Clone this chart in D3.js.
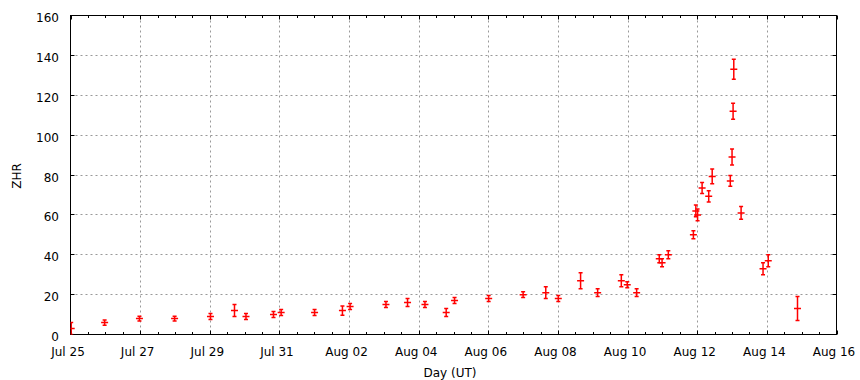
<!DOCTYPE html>
<html>
<head>
<meta charset="utf-8">
<script src="https://cdn.jsdelivr.net/npm/d3@7/dist/d3.min.js"></script>
<style>
  body { margin: 0; background: #fff; }
  svg { display: block; }
  text { font-family: "DejaVu Sans", sans-serif; font-size: 12px; fill: #000; }
</style>
</head>
<body>
<svg id="chart" width="860" height="380"></svg>
<script>
// Days after 2015-07-25 00:00 UT
const dayOffset = [0.02, 0.98, 1.98, 2.99, 4.02, 4.71, 5.04, 5.83, 6.05, 7.01,
  7.81, 8.03, 9.06, 9.68, 10.18, 10.79, 11.03, 12.01, 13.00, 13.65,
  14.01, 14.65, 15.14, 15.82, 15.99, 16.26, 16.91, 16.99, 17.17, 17.89,
  17.96, 18.01, 18.14, 18.33, 18.43, 18.95, 19.00, 19.03, 19.05, 19.26,
  19.89, 20.04, 20.88];
const zhr = [3, 6, 8, 8, 9, 12, 9, 10, 11, 11,
  12, 14, 15, 16, 15, 11, 17, 18, 20, 21,
  18, 27, 21, 27, 25, 21, 38, 36, 40, 50,
  62, 60, 73.5, 69.3, 79.3, 77, 89, 112, 133, 61,
  33, 37, 13];
const zhrErr = [3, 1.3, 1.2, 1.2, 1.5, 3, 1.5, 1.5, 1.5, 1.5,
  2.3, 1.5, 1.5, 2, 1.5, 2, 1.5, 1.5, 1.5, 3,
  1.5, 4, 2, 3, 1.5, 2, 2, 2, 2, 2,
  3, 3, 2.8, 2.8, 3.7, 2.7, 4, 4, 5, 3.2,
  3, 3, 6];
const yTicks = [0, 20, 40, 60, 80, 100, 120, 140, 160];
const xTickDays = [0, 2, 4, 6, 8, 10, 12, 14, 16, 18, 20, 22];
const xMinorStep = 0.5;
const xLabel = "Day (UT)";
const yLabel = "ZHR";

const t0 = Date.UTC(2015, 6, 25);
const DAY = 86400000;
const data = dayOffset.map((d, i) => ({ t: new Date(t0 + d * DAY), v: zhr[i], e: zhrErr[i] }));

const svg = d3.select("#chart");
const L = 70.5, R = 836.5, T = 15.5, B = 334.5;

const x = d3.scaleUtc().domain([new Date(t0), new Date(t0 + 22 * DAY)]).range([L, R]);
const y = d3.scaleLinear().domain([0, 160]).range([B, T]);

const majorX = xTickDays.map(d => new Date(t0 + d * DAY));
const minorX = d3.range(0, 22 + 1e-9, xMinorStep).map(d => new Date(t0 + d * DAY));
const fmt = d3.utcFormat("%b %d");

// gridlines
const grid = svg.append("g").attr("stroke", "#999").attr("stroke-width", 1).attr("stroke-dasharray", "2,3");
grid.selectAll("line.gx").data(majorX.slice(1, -1)).join("line")
  .attr("class", "gx")
  .attr("x1", d => Math.round(x(d)) + 0.5).attr("x2", d => Math.round(x(d)) + 0.5)
  .attr("y1", T).attr("y2", B);
grid.selectAll("line.gy").data(yTicks.slice(1, -1)).join("line")
  .attr("class", "gy")
  .attr("y1", d => Math.round(y(d) - 0.5) + 0.5).attr("y2", d => Math.round(y(d) - 0.5) + 0.5)
  .attr("x1", L).attr("x2", R);

// ticks
const ticks = svg.append("g").attr("stroke", "#000").attr("stroke-width", 1);
minorX.forEach(d => {
  const isMajor = majorX.some(m => +m === +d);
  const len = isMajor ? 4 : 2.5;
  const xx = Math.round(x(d)) + 0.5;
  ticks.append("line").attr("x1", xx).attr("x2", xx).attr("y1", B).attr("y2", B - len);
  ticks.append("line").attr("x1", xx).attr("x2", xx).attr("y1", T).attr("y2", T + len);
});
yTicks.forEach(d => {
  const yy = Math.round(y(d) - 0.5) + 0.5;
  ticks.append("line").attr("x1", L).attr("x2", L + 4).attr("y1", yy).attr("y2", yy);
  ticks.append("line").attr("x1", R).attr("x2", R - 4).attr("y1", yy).attr("y2", yy);
});

// frame
svg.append("rect").attr("x", L).attr("y", T).attr("width", R - L).attr("height", B - T)
  .attr("fill", "none").attr("stroke", "#000").attr("stroke-width", 1);

// tick labels
svg.append("g").selectAll("text").data(yTicks).join("text")
  .attr("x", 59).attr("y", d => y(d) + 6.5).attr("text-anchor", "end").text(d => d);
svg.append("g").selectAll("text").data(majorX).join("text")
  .attr("x", d => x(d) - 2.5).attr("y", 356).attr("text-anchor", "middle").text(d => fmt(d));

// axis titles
svg.append("text").attr("x", 450).attr("y", 377).attr("text-anchor", "middle").text(xLabel);
svg.append("text").attr("transform", "translate(21,176) rotate(-90)").attr("text-anchor", "middle").text(yLabel);

// error bars
svg.append("clipPath").attr("id", "clip").append("rect")
  .attr("x", L).attr("y", T).attr("width", R - L).attr("height", B - T);
const pts = svg.append("g").attr("clip-path", "url(#clip)").attr("stroke", "#f00").attr("stroke-width", 1.5)
  .selectAll("g").data(data).join("g");
pts.append("line")
  .attr("x1", d => x(d.t)).attr("x2", d => x(d.t))
  .attr("y1", d => y(d.v - d.e)).attr("y2", d => y(d.v + d.e));
pts.append("line")
  .attr("x1", d => x(d.t) - 2).attr("x2", d => x(d.t) + 2)
  .attr("y1", d => y(d.v - d.e)).attr("y2", d => y(d.v - d.e));
pts.append("line")
  .attr("x1", d => x(d.t) - 2).attr("x2", d => x(d.t) + 2)
  .attr("y1", d => y(d.v + d.e)).attr("y2", d => y(d.v + d.e));
pts.append("line")
  .attr("x1", d => x(d.t) - 3.5).attr("x2", d => x(d.t) + 3.5)
  .attr("y1", d => y(d.v)).attr("y2", d => y(d.v));
</script>
</body>
</html>
